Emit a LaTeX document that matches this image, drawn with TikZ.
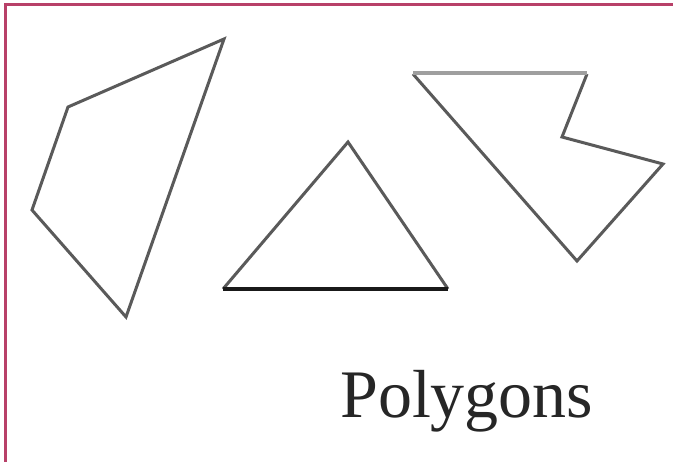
\documentclass[tikz,border=0pt]{standalone}
\usepackage{fontspec}
\setmainfont{Liberation Serif}
\definecolor{frame}{RGB}{184,64,104}
\definecolor{edge}{RGB}{90,90,90}
\begin{document}
\begin{tikzpicture}[x=1pt,y=-1pt,
  shapeline/.style={draw=edge,line width=3pt,line join=miter}]
\useasboundingbox (0,0) rectangle (673,462);
\fill[white] (0,0) rectangle (673,462);
% frame (left and top visible)
\draw[frame,line width=3pt] (5,463) -- (5,5) -- (674,5);
% left quadrilateral
\draw[shapeline] (224,39) -- (68,107) -- (32,210) -- (126,317) -- cycle;
% triangle
\draw[shapeline] (223,289) -- (348,142) -- (448,289);
\draw[black!90,line width=3.5pt] (223,289) -- (448,289);
% right polygon
\draw[shapeline] (413,74) -- (577,261) -- (663,164) -- (562,137) -- (587,74);
\draw[gray!75,line width=4.5pt] (413,73) -- (587,73);
% label
\node[font=\fontsize{68}{72}\selectfont,anchor=base west,inner sep=0pt,text=black!85] (lbl) at (340,418) {Polygons};
\end{tikzpicture}
\end{document}
